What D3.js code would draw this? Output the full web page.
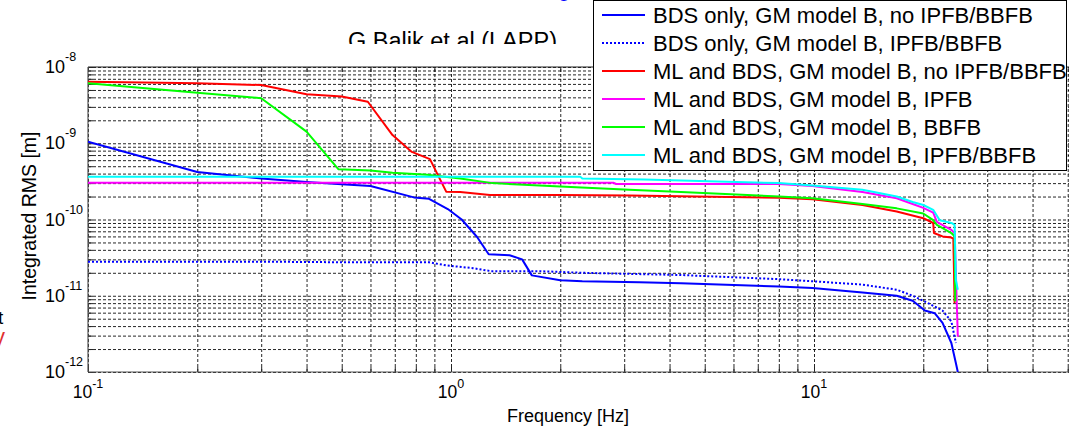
<!DOCTYPE html>
<html>
<head>
<meta charset="utf-8">
<script src="https://cdn.jsdelivr.net/npm/d3@7"></script>
<style>
  body { margin: 0; background: #fff; }
  svg { display: block; font-family: "Liberation Sans", Arial, sans-serif; }
</style>
</head>
<body>
<svg id="chart" width="1069" height="428"></svg>
<script>
// Integrated RMS vs frequency, [frequency Hz, RMS m] pairs per configuration
const bdsNoFb = [[0.1,1.05e-9],[0.2,4.2e-10],[0.3,3.45e-10],[0.4,3.1e-10],[0.5,2.9e-10],[0.6,2.75e-10],
  [0.79,1.95e-10],[0.87,1.87e-10],[0.98,1.37e-10],[1.07,1.0e-10],[1.18,5.9e-11],[1.27,3.5e-11],
  [1.45,3.4e-11],[1.57,3.0e-11],[1.67,1.85e-11],[2.0,1.6e-11],[2.3,1.55e-11],[3.3,1.5e-11],
  [4.3,1.46e-11],[8.0,1.32e-11],[9.9,1.26e-11],[13.6,1.1e-11],[16.9,1.0e-11],[18.7,8.6e-12],
  [20.2,6.4e-12],[21.5,5.9e-12],[22.6,4.4e-12],[23.9,2.4e-12],[24.6,1.3e-12],[24.9,1.0e-12]];
const bdsFb = [[0.1,2.8e-11],[0.3,2.8e-11],[0.5,2.75e-11],[0.87,2.75e-11],[0.97,2.5e-11],[1.15,2.3e-11],
  [1.29,2.1e-11],[1.76,2.1e-11],[2.3,2.0e-11],[4.3,1.87e-11],[8.0,1.65e-11],[9.9,1.55e-11],
  [13.6,1.4e-11],[16.9,1.2e-11],[18.7,1.0e-11],[20.2,8.4e-12],[22.6,6.4e-12],[23.9,4.6e-12],[24.6,2.4e-12]];
const mlNoFb = [[0.1,6.4e-9],[0.2,6.1e-9],[0.3,5.8e-9],[0.4,4.4e-9],[0.5,4.1e-9],[0.59,3.5e-9],
  [0.69,1.28e-9],[0.78,7.7e-10],[0.875,6.2e-10],[0.97,2.32e-10],[1.06,2.3e-10],[1.28,2.1e-10],
  [2.0,2.1e-10],[3.1,2.07e-10],[8.0,1.93e-10],[9.9,1.84e-10],[13.6,1.55e-10],[16.9,1.27e-10],
  [20.0,1.04e-10],[21.3,9.0e-11],[21.4,6.65e-11],[22.6,6.0e-11],[23.9,5.8e-11],[24.2,5.6e-11],[24.4,8.0e-12]];
const mlIpfb = [[0.1,3.04e-10],[2.8,3.04e-10],[2.85,2.92e-10],[8.0,2.92e-10],[9.9,2.75e-10],
  [13.6,2.3e-10],[16.9,1.9e-10],[18.7,1.6e-10],[20.0,1.42e-10],[21.3,1.23e-10],[21.8,9.3e-11],
  [23.9,7.3e-11],[24.4,6.6e-11],[24.9,2.9e-12]];
const mlBbfb = [[0.1,6.1e-9],[0.2,4.6e-9],[0.3,3.9e-9],[0.4,1.42e-9],[0.49,4.55e-10],[0.6,4.4e-10],
  [0.69,4.1e-10],[0.86,3.85e-10],[1.06,3.45e-10],[1.3,3.0e-10],[2.0,2.7e-10],[3.1,2.45e-10],
  [4.3,2.3e-10],[8.0,2.0e-10],[9.9,1.9e-10],[13.6,1.6e-10],[16.9,1.4e-10],[20.0,1.2e-10],
  [21.3,9.8e-11],[21.8,8.5e-11],[23.9,6.65e-11],[24.4,6.0e-11],[24.5,8.4e-12]];
const mlBoth = [[0.1,3.65e-10],[2.27,3.65e-10],[2.3,3.45e-10],[3.4,3.35e-10],[8.0,3.0e-10],
  [9.9,2.8e-10],[13.6,2.45e-10],[16.9,2.0e-10],[18.7,1.7e-10],[20.0,1.55e-10],[21.3,1.34e-10],
  [22.2,9.8e-11],[23.9,9.0e-11],[24.4,8.5e-11],[24.6,1.6e-11],[24.9,1.2e-11]];

const seriesLabels = [
  "BDS only, GM model B, no IPFB/BBFB",
  "BDS only, GM model B, IPFB/BBFB",
  "ML and BDS, GM model B, no IPFB/BBFB",
  "ML and BDS, GM model B, IPFB",
  "ML and BDS, GM model B, BBFB",
  "ML and BDS, GM model B, IPFB/BBFB"
];
const seriesData = [bdsNoFb, bdsFb, mlNoFb, mlIpfb, mlBbfb, mlBoth];
const seriesColors = ["#0000ff", "#0000ff", "#ff0000", "#ff00ff", "#00ff00", "#00ffff"];
const seriesDash = [null, "2,2", null, null, null, null];

const xTickExponents = [-1, 0, 1];
const yTickExponents = [-12, -11, -10, -9, -8];
const xLabel = "Frequency [Hz]";
const yLabel = "Integrated RMS [m]";
const titleText = "G Balik et al (LAPP)";

(function draw() {
  const svg = d3.select("#chart");
  const plotL = 88, plotR = 1177, plotT = 67, plotB = 372;

  const x = d3.scaleLog().domain([0.1, 100]).range([plotL, plotR]);
  const y = d3.scaleLog().domain([1e-12, 1e-8]).range([plotB, plotT]);

  // log grid positions: 1..9 x each decade
  const xGrid = [];
  [-1, 0, 1].forEach(d => { for (let k = 1; k <= 9; k++) xGrid.push(k * Math.pow(10, d)); });
  const yGrid = [];
  [-12, -11, -10, -9].forEach(d => { for (let k = 1; k <= 9; k++) yGrid.push(k * Math.pow(10, d)); });
  yGrid.push(1e-8);

  // title, partly hidden under the axes region
  svg.append("clipPath").attr("id", "titleClip")
    .append("rect").attr("x", 0).attr("y", 0).attr("width", 1069).attr("height", 44);
  svg.append("text").attr("clip-path", "url(#titleClip)")
    .attr("x", 348).attr("y", 49).attr("font-size", 23.5).attr("fill", "#000")
    .text(titleText);
  svg.append("text").attr("x", 558).attr("y", -4).attr("font-size", 22).attr("fill", "#0000ff").text("g");
  svg.append("text").attr("x", -2).attr("y", 324).attr("font-size", 19).attr("fill", "#000").text("t");
  svg.append("text").attr("x", -6).attr("y", 344).attr("font-size", 22).attr("fill", "#e03030").text("y");

  // gridlines
  const gridStyle = g => g.selectAll("line")
    .attr("stroke", "#000").attr("stroke-width", 1).attr("stroke-dasharray", "3,2").attr("opacity", 0.85);
  svg.append("g").attr("transform", `translate(0,${plotB})`)
    .call(d3.axisBottom(x).tickValues(xGrid).tickSize(-(plotB - plotT)).tickFormat(""))
    .call(g => g.select(".domain").remove())
    .call(gridStyle);
  svg.append("g").attr("transform", `translate(${plotL},0)`)
    .call(d3.axisLeft(y).tickValues(yGrid).tickSize(-(plotR - plotL)).tickFormat(""))
    .call(g => g.select(".domain").remove())
    .call(gridStyle);

  // inward tick marks on the box edges
  const tickStyle = g => g.selectAll("line").attr("stroke", "#222").attr("stroke-width", 1);
  svg.append("g").attr("transform", `translate(0,${plotB})`)
    .call(d3.axisBottom(x).tickValues(xGrid).tickSize(-5).tickFormat(""))
    .call(g => g.select(".domain").remove()).call(tickStyle);
  svg.append("g").attr("transform", `translate(0,${plotT})`)
    .call(d3.axisTop(x).tickValues(xGrid).tickSize(-5).tickFormat(""))
    .call(g => g.select(".domain").remove()).call(tickStyle);
  svg.append("g").attr("transform", `translate(${plotL},0)`)
    .call(d3.axisLeft(y).tickValues(yGrid).tickSize(-5).tickFormat(""))
    .call(g => g.select(".domain").remove()).call(tickStyle);

  // axes box lines
  svg.append("line").attr("x1", plotL).attr("x2", plotR).attr("y1", plotB).attr("y2", plotB)
    .attr("stroke", "#555").attr("stroke-width", 1.2);
  svg.append("line").attr("x1", plotL).attr("x2", plotR).attr("y1", plotT).attr("y2", plotT)
    .attr("stroke", "#222").attr("stroke-width", 1);
  svg.append("line").attr("x1", plotL).attr("x2", plotL).attr("y1", plotT).attr("y2", plotB)
    .attr("stroke", "#555").attr("stroke-width", 1.2);

  // curves
  svg.append("clipPath").attr("id", "plotClip")
    .append("rect").attr("x", plotL).attr("y", plotT - 2).attr("width", plotR - plotL).attr("height", plotB - plotT + 2);
  const line = d3.line().x(d => x(d[0])).y(d => y(d[1]));
  const curves = svg.append("g").attr("clip-path", "url(#plotClip)");
  seriesData.forEach((data, i) => {
    curves.append("path").datum(data)
      .attr("d", line)
      .attr("fill", "none")
      .attr("stroke", seriesColors[i])
      .attr("stroke-width", 2)
      .attr("stroke-linejoin", "round")
      .attr("stroke-dasharray", seriesDash[i]);
  });

  // tick labels with superscript exponents
  xTickExponents.forEach(e => {
    const t = svg.append("text").attr("x", x(Math.pow(10, e))).attr("y", 398)
      .attr("text-anchor", "middle").attr("font-size", 17.5).attr("fill", "#000");
    t.append("tspan").text("10");
    t.append("tspan").attr("dy", -10).attr("font-size", 12.5).text(e);
  });
  yTickExponents.forEach(e => {
    const yy = y(Math.pow(10, e));
    svg.append("text").attr("x", 65).attr("y", yy + 6)
      .attr("text-anchor", "end").attr("font-size", 18).attr("fill", "#000").text("10");
    svg.append("text").attr("x", 65).attr("y", yy - 6)
      .attr("font-size", 12.5).attr("fill", "#000").text(e);
  });

  // axis labels
  svg.append("text").attr("x", 568).attr("y", 422).attr("text-anchor", "middle")
    .attr("font-size", 18).attr("fill", "#000").text(xLabel);
  svg.append("text").attr("transform", `translate(36,216) rotate(-90)`)
    .attr("text-anchor", "middle").attr("font-size", 19.5).attr("fill", "#000").text(yLabel);

  // legend
  const legend = svg.append("g");
  legend.append("rect").attr("x", 593.5).attr("y", 0.5).attr("width", 473).attr("height", 170)
    .attr("fill", "#fff").attr("stroke", "#000").attr("stroke-width", 1);
  seriesLabels.forEach((label, i) => {
    const cy = 15 + i * 28;
    legend.append("line").attr("x1", 602).attr("x2", 645).attr("y1", cy).attr("y2", cy)
      .attr("stroke", seriesColors[i]).attr("stroke-width", 2)
      .attr("stroke-dasharray", seriesDash[i]);
    legend.append("text").attr("x", 653).attr("y", cy + 8)
      .attr("font-size", 22).attr("fill", "#000").text(label);
  });
})();
</script>
</body>
</html>
